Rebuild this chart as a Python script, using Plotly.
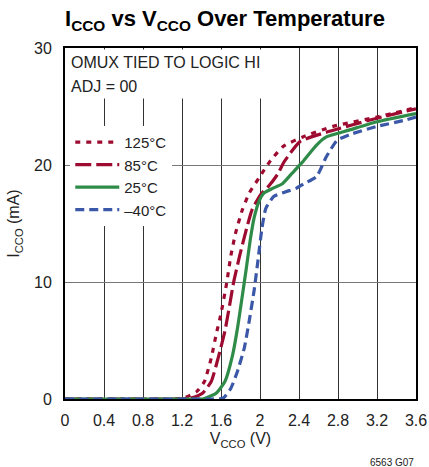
import plotly.graph_objects as go

# ---- data ----
v_125 = [0, 1.05, 1.21, 1.35, 1.43, 1.50, 1.55, 1.60, 1.66, 1.70, 1.75, 1.82, 1.89, 1.99, 2.11, 2.24, 2.44, 2.75, 3.2, 3.6]
i_125 = [0, 0, 0.06, 0.63, 1.5, 3.5, 5.5, 7.3, 10.0, 12.2, 14.2, 16.2, 17.6, 18.9, 20.4, 21.6, 22.4, 23.3, 24.1, 24.9]

v_85 = [0, 1.15, 1.28, 1.41, 1.50, 1.58, 1.64, 1.69, 1.73, 1.79, 1.86, 1.92, 2.01, 2.09, 2.18, 2.25, 2.41, 2.68, 3.2, 3.6]
i_85 = [0, 0, 0.06, 0.5, 1.5, 3.8, 5.8, 8.1, 10.0, 12.2, 14.5, 16.2, 17.5, 18.2, 19.2, 20.3, 22.0, 22.8, 24.0, 24.8]

v_25 = [0, 1.3, 1.41, 1.55, 1.64, 1.72, 1.77, 1.82, 1.86, 1.90, 1.94, 1.99, 2.04, 2.13, 2.23, 2.33, 2.43, 2.58, 2.68, 2.92, 3.2, 3.6]
i_25 = [0, 0, 0.0, 0.5, 1.5, 3.8, 6.1, 8.9, 11.2, 13.6, 15.5, 16.9, 17.6, 18.0, 18.4, 19.3, 20.2, 21.7, 22.4, 23.0, 23.7, 24.4]

v_m40 = [0, 1.45, 1.62, 1.70, 1.77, 1.84, 1.89, 1.94, 1.98, 2.02, 2.06, 2.14, 2.26, 2.37, 2.45, 2.58, 2.68, 2.79, 2.92, 3.2, 3.47, 3.6]
i_m40 = [0, 0, 0.06, 0.9, 2.4, 4.4, 6.7, 9.3, 11.9, 14.6, 16.3, 17.3, 17.7, 18.0, 18.4, 19.0, 20.7, 22.1, 22.6, 23.3, 23.8, 24.1]

series_names = ["125°C", "85°C", "25°C", "–40°C"]

x_tickvals = [0, 0.4, 0.8, 1.2, 1.6, 2.0, 2.4, 2.8, 3.2, 3.6]
x_ticktext = ["0", "0.4", "0.8", "1.2", "1.6", "2", "2.4", "2.8", "3.2", "3.6"]
y_tickvals = [0, 10, 20, 30]
y_ticktext = ["0", "10", "20", "30"]

RED = "#9e0b30"
GREEN = "#2f8c48"
BLUE = "#3b58a8"
FONT = "Liberation Sans"

fig = go.Figure()
styles = [
    (v_125, i_125, RED, "5px,6px"),
    (v_85, i_85, RED, "16px,5px"),
    (v_25, i_25, GREEN, "solid"),
    (v_m40, i_m40, BLUE, "9px,5px"),
]
for (vx, iy, col, dash), name in zip(styles, series_names):
    fig.add_trace(go.Scatter(
        x=vx, y=iy, name=name, mode="lines",
        line=dict(color=col, width=3.2, dash=dash, shape="spline", smoothing=0.5),
    ))

fig.update_layout(
    width=429, height=467,
    margin=dict(l=65, r=13, t=48, b=68, autoexpand=False),
    paper_bgcolor="white", plot_bgcolor="white",
    font=dict(family=FONT, size=16, color="#222"),
    title=dict(
        text="I<sub>CCO</sub> vs V<sub>CCO</sub> Over Temperature",
        font=dict(family=FONT, size=22, color="#000", weight="bold"),
        x=0, xref="paper", xanchor="left",
        y=0.961, yref="container", yanchor="middle",
    ),
    showlegend=True,
    legend=dict(
        x=0.015, y=0.778, xanchor="left", yanchor="top",
        bgcolor="white", borderwidth=0,
        font=dict(family=FONT, size=15, color="#222"),
        itemwidth=44, tracegroupgap=0,
    ),
    xaxis=dict(
        range=[0, 3.6], tickvals=x_tickvals, ticktext=x_ticktext,
        showgrid=True, gridcolor="#333", gridwidth=1,
        showline=True, linecolor="#000", linewidth=2, mirror=True,
        ticks="", zeroline=False, automargin=False, ticklabelstandoff=6,
        tickfont=dict(family=FONT, size=16, color="#222"),
        title=dict(text="V<sub>CCO</sub> (V)", font=dict(family=FONT, size=16, color="#222"), standoff=5),
    ),
    yaxis=dict(
        range=[0, 30], tickvals=y_tickvals, ticktext=y_ticktext,
        showgrid=True, gridcolor="#777", gridwidth=1,
        showline=True, linecolor="#000", linewidth=2, mirror=True,
        ticks="", zeroline=False, automargin=False, ticklabelstandoff=8,
        tickfont=dict(family=FONT, size=16, color="#222"),
        title=dict(text="I<sub>CCO</sub> (mA)", font=dict(family=FONT, size=16, color="#222"), standoff=10),
    ),
    annotations=[
        dict(
            text="OMUX TIED TO LOGIC HI",
            xref="paper", yref="paper", x=0.004, y=0.997, xanchor="left", yanchor="top",
            showarrow=False, align="left", valign="middle", bgcolor="white",
            width=194, height=22, borderpad=1, xshift=3,
            font=dict(family=FONT, size=16, color="#222"),
        ),
        dict(
            text="ADJ = 00",
            xref="paper", yref="paper", x=0.004, y=0.928, xanchor="left", yanchor="top",
            showarrow=False, align="left", valign="middle", bgcolor="white",
            width=194, height=22, borderpad=1, xshift=3,
            font=dict(family=FONT, size=16, color="#222"),
        ),
        dict(
            text="6563 G07",
            xref="paper", yref="paper", x=1, y=-0.18, xanchor="right", yanchor="middle",
            showarrow=False, font=dict(family=FONT, size=10, color="#222"),
        ),
    ],
)

fig.write_html("out.html", config={"displayModeBar": False},
               post_script="document.body.style.margin='0';")
